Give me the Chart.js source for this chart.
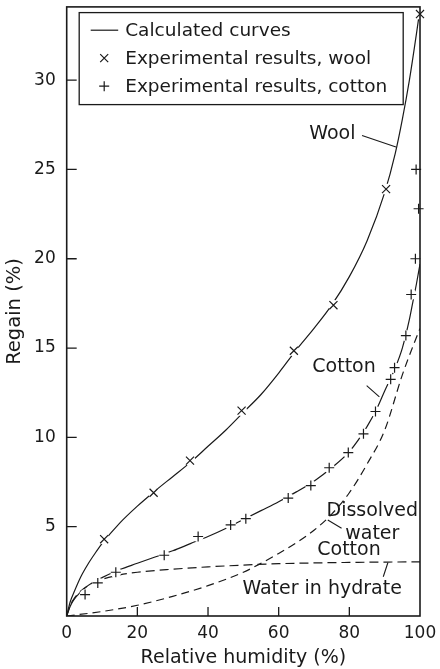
<!DOCTYPE html>
<html>
<head>
<meta charset="utf-8">
<script src="https://cdn.jsdelivr.net/npm/chart.js@4.4.0/dist/chart.umd.min.js"></script>
<style>
  html, body { margin: 0; padding: 0; background: #fff; }
  #wrap { width: 440px; height: 669px; }
</style>
</head>
<body>
<div id="wrap"><canvas id="regainChart"></canvas></div>
<script>
// calculated curves: relative humidity (%) -> regain (%)
const woolCurveX = [0, 1, 2, 4, 6, 8, 10, 15, 20, 25, 30, 35, 40, 45, 50, 55, 60, 65, 70, 75, 80, 85, 90, 93, 95, 97, 99, 100];
const woolCurveY = [0, 0.8, 1.3, 2.2, 2.9, 3.5, 4.05, 5.2, 6.15, 7.0, 7.8, 8.6, 9.5, 10.4, 11.4, 12.4, 13.6, 14.9, 16.1, 17.4, 19.0, 21.0, 23.7, 25.9, 27.8, 30.0, 32.6, 34.0];

const cottonCurveX = [0, 1, 2, 4, 6, 8, 10, 15, 20, 25, 30, 35, 40, 45, 50, 55, 60, 65, 70, 75, 80, 85, 88, 90, 93, 95, 97, 98, 99, 100];
const cottonCurveY = [0, 0.55, 0.9, 1.35, 1.7, 1.95, 2.15, 2.6, 2.95, 3.3, 3.65, 4.05, 4.45, 4.9, 5.4, 5.9, 6.4, 6.95, 7.55, 8.3, 9.2, 10.6, 11.7, 12.6, 13.9, 15.0, 16.6, 17.6, 18.6, 19.7];

const dissolvedX = [0, 10, 20, 30, 40, 50, 55, 60, 65, 70, 75, 80, 85, 90, 95, 98, 100];
const dissolvedY = [0, 0.25, 0.6, 1.1, 1.7, 2.45, 2.95, 3.5, 4.1, 4.8, 5.7, 6.9, 8.5, 10.4, 13.5, 15.1, 16.1];

const hydrateX = [0, 1, 2, 4, 6, 8, 10, 15, 20, 30, 40, 50, 60, 70, 80, 90, 100];
const hydrateY = [0, 0.6, 0.95, 1.4, 1.7, 1.9, 2.05, 2.3, 2.45, 2.62, 2.75, 2.85, 2.93, 2.97, 3.0, 3.02, 3.03];

// experimental results
const woolPointsX = [10.6, 24.6, 34.9, 49.5, 64.3, 75.5, 90.4, 100];
const woolPointsY = [4.3, 6.9, 8.7, 11.5, 14.85, 17.4, 23.9, 33.7];

const cottonPointsX = [5.2, 8.8, 13.9, 27.6, 37.2, 46.4, 50.7, 62.7, 69.1, 74.3, 79.7, 84.0, 87.4, 91.7, 92.8, 96.0, 97.5, 98.7, 99.6, 98.9];
const cottonPointsY = [1.2, 1.85, 2.45, 3.4, 4.45, 5.1, 5.45, 6.6, 7.3, 8.3, 9.15, 10.2, 11.45, 13.25, 13.9, 15.7, 18.0, 20.0, 22.8, 25.0];

// axes
const xTickValues = [0, 20, 40, 60, 80, 100];
const yTickValues = [5, 10, 15, 20, 25, 30];
const xMax = 100;
const yMax = 34.1;

const legendLabels = ["Calculated curves", "Experimental results, wool", "Experimental results, cotton"];

const ink = "#1a1a1a";
const fontFamily = "'DejaVu Sans', sans-serif";

function toPoints(xs, ys) {
    return xs.map((x, i) => ({ x: x, y: ys[i] }));
}

// curve labels, placed in data units
const curveLabels = [
    { text: "Wool", x: 75.2, y: 27.0 },
    { text: "Cotton", x: 78.5, y: 13.95 },
    { text: "Dissolved", x: 86.5, y: 5.9 },
    { text: "water", x: 86.5, y: 4.57 },
    { text: "Cotton", x: 79.9, y: 3.69 },
    { text: "Water in hydrate", x: 72.3, y: 1.5 },
];
const leaderLines = [
    [83.6, 26.9, 93.2, 26.26],
    [84.9, 12.9, 88.5, 12.27],
    [73.9, 5.37, 77.8, 4.91],
    [90.9, 2.98, 89.6, 2.2],
];

const figurePlugin = {
    id: "figureExtras",
    afterDraw(chart) {
        const ctx = chart.ctx;
        const area = chart.chartArea;
        const xs = chart.scales.x;
        const ys = chart.scales.y;
        ctx.save();
        ctx.strokeStyle = ink;
        ctx.fillStyle = ink;

        // frame
        ctx.lineWidth = 1.6;
        ctx.strokeRect(area.left, area.top, area.right - area.left, area.bottom - area.top);

        // inward ticks
        ctx.lineWidth = 1.3;
        ctx.beginPath();
        yTickValues.forEach((v) => {
            const py = ys.getPixelForValue(v);
            ctx.moveTo(area.left, py);
            ctx.lineTo(area.left + 10, py);
        });
        xTickValues.forEach((v) => {
            if (v === 0 || v === xMax) return;
            const px = xs.getPixelForValue(v);
            ctx.moveTo(px, area.bottom);
            ctx.lineTo(px, area.bottom - 9);
        });
        ctx.stroke();

        // curve labels + leaders
        ctx.font = "19px " + fontFamily;
        ctx.textAlign = "center";
        ctx.textBaseline = "middle";
        curveLabels.forEach((l) => {
            ctx.fillText(l.text, xs.getPixelForValue(l.x), ys.getPixelForValue(l.y));
        });
        ctx.lineWidth = 1.1;
        ctx.beginPath();
        leaderLines.forEach((s) => {
            ctx.moveTo(xs.getPixelForValue(s[0]), ys.getPixelForValue(s[1]));
            ctx.lineTo(xs.getPixelForValue(s[2]), ys.getPixelForValue(s[3]));
        });
        ctx.stroke();

        // legend box
        const bx = area.left + 12.5;
        const by = area.top + 5.7;
        const bw = 324;
        const bh = 92;
        ctx.fillStyle = "#fff";
        ctx.fillRect(bx, by, bw, bh);
        ctx.lineWidth = 1.3;
        ctx.strokeRect(bx, by, bw, bh);
        ctx.fillStyle = ink;
        ctx.font = "18.5px " + fontFamily;
        ctx.textAlign = "left";
        const symX = bx + 25;
        legendLabels.forEach((label, i) => {
            const cy = by + 17.6 + i * 28;
            ctx.lineWidth = 1.2;
            ctx.beginPath();
            if (i === 0) {
                ctx.moveTo(bx + 11.5, cy);
                ctx.lineTo(bx + 39, cy);
            } else if (i === 1) {
                ctx.moveTo(symX - 4, cy - 4);
                ctx.lineTo(symX + 4, cy + 4);
                ctx.moveTo(symX - 4, cy + 4);
                ctx.lineTo(symX + 4, cy - 4);
            } else {
                ctx.moveTo(symX - 5, cy);
                ctx.lineTo(symX + 5, cy);
                ctx.moveTo(symX, cy - 5);
                ctx.lineTo(symX, cy + 5);
            }
            ctx.stroke();
            ctx.fillText(label, bx + 46, cy + 1);
        });
        ctx.restore();
    },
};

const curveStyle = {
    showLine: true,
    pointRadius: 0,
    borderColor: ink,
    borderWidth: 1.2,
    fill: false,
    cubicInterpolationMode: "monotone",
    order: 3,
};

const gapStyle = {
    showLine: false,
    pointStyle: "circle",
    pointRadius: 5.5,
    pointBackgroundColor: "#fff",
    pointBorderWidth: 0,
    borderColor: "#fff",
    clip: false,
    order: 2,
};

const config = {
    type: "scatter",
    data: {
        datasets: [
            Object.assign({ label: "Wool", data: toPoints(woolCurveX, woolCurveY) }, curveStyle),
            Object.assign({ label: "Cotton", data: toPoints(cottonCurveX, cottonCurveY) }, curveStyle),
            Object.assign({ label: "Dissolved water", data: toPoints(dissolvedX, dissolvedY), borderDash: [8, 5] }, curveStyle),
            Object.assign({ label: "Water in hydrate", data: toPoints(hydrateX, hydrateY), borderDash: [9, 5] }, curveStyle),
            Object.assign({ label: "wool gaps", data: toPoints(woolPointsX, woolPointsY) }, gapStyle),
            Object.assign({ label: "cotton gaps", data: toPoints(cottonPointsX, cottonPointsY) }, gapStyle),
            {
                label: "Experimental results, wool",
                data: toPoints(woolPointsX, woolPointsY),
                showLine: false,
                pointStyle: "crossRot",
                pointRadius: 5.7,
                pointBorderWidth: 1.2,
                pointBorderColor: ink,
                clip: false,
                order: 1,
            },
            {
                label: "Experimental results, cotton",
                data: toPoints(cottonPointsX, cottonPointsY),
                showLine: false,
                pointStyle: "cross",
                pointRadius: 5,
                pointBorderWidth: 1.2,
                pointBorderColor: ink,
                clip: false,
                order: 1,
            },
        ],
    },
    options: {
        responsive: true,
        maintainAspectRatio: false,
        animation: false,
        layout: { padding: { top: 6, right: 20, left: 0, bottom: 0 } },
        plugins: {
            legend: { display: false },
            tooltip: { enabled: false },
        },
        scales: {
            x: {
                type: "linear",
                min: 0,
                max: xMax,
                grid: { display: false, drawTicks: false },
                border: { display: false },
                afterBuildTicks: (scale) => {
                    scale.ticks = xTickValues.map((v) => ({ value: v }));
                },
                afterFit: (scale) => {
                    scale.height = 53;
                    scale.paddingLeft = 0;
                    scale.paddingRight = 0;
                },
                ticks: {
                    padding: 7,
                    maxRotation: 0,
                    color: ink,
                    font: { family: fontFamily, size: 17 },
                },
                title: {
                    display: true,
                    text: "Relative humidity (%)",
                    color: ink,
                    padding: { top: 0, bottom: 0 },
                    font: { family: fontFamily, size: 19 },
                },
            },
            y: {
                type: "linear",
                min: 0,
                max: yMax,
                grid: { display: false, drawTicks: false },
                border: { display: false },
                afterBuildTicks: (scale) => {
                    scale.ticks = yTickValues.map((v) => ({ value: v }));
                },
                afterFit: (scale) => {
                    scale.width = 66.7;
                    scale.paddingTop = 0;
                    scale.paddingBottom = 0;
                },
                ticks: {
                    padding: 11,
                    color: ink,
                    font: { family: fontFamily, size: 17 },
                },
                title: {
                    display: true,
                    text: "Regain (%)",
                    color: ink,
                    padding: { top: 3, bottom: 0 },
                    font: { family: fontFamily, size: 19.5 },
                },
            },
        },
    },
    plugins: [figurePlugin],
};

new Chart(document.getElementById("regainChart").getContext("2d"), config);
</script>
</body>
</html>
